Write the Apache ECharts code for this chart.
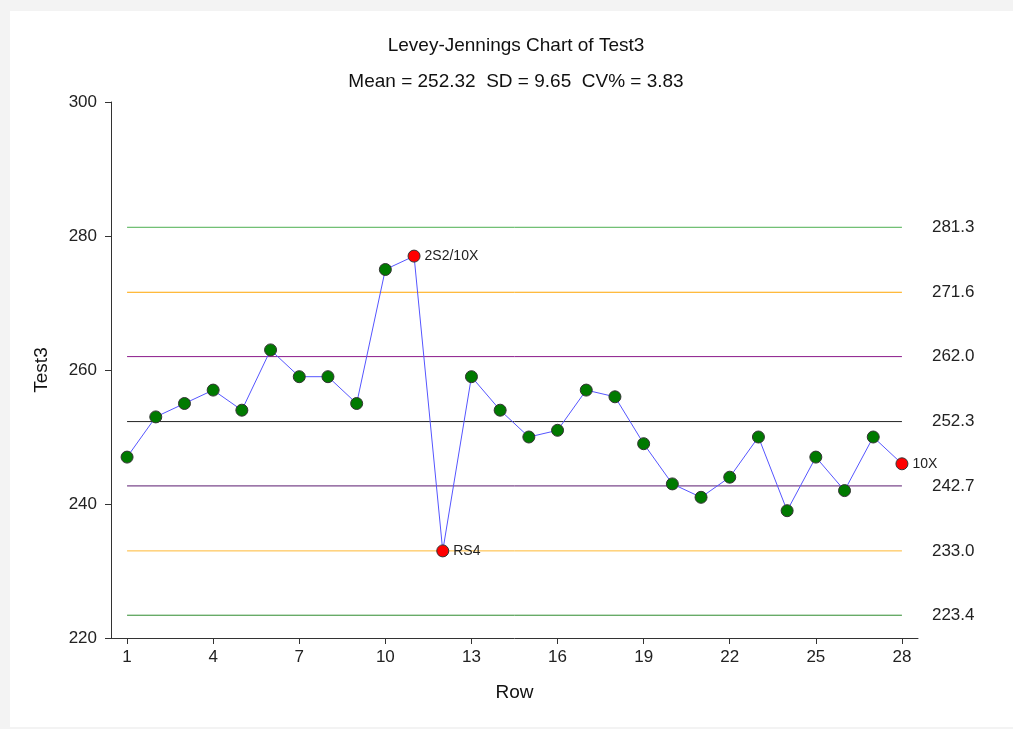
<!DOCTYPE html>
<html>
<head>
<meta charset="utf-8">
<script src="https://cdn.jsdelivr.net/npm/echarts@6/dist/echarts.min.js"></script>
<style>
html,body{margin:0;padding:0;background:#f3f3f3;width:1013px;height:729px;overflow:hidden;}
#panel{position:absolute;left:10px;top:11px;width:1003px;height:716px;background:#fff;}
#chart{position:absolute;left:0;top:0;width:1013px;height:729px;}
</style>
</head>
<body>
<div id="panel"></div>
<div id="chart"></div>
<script>
const rows = [1,2,3,4,5,6,7,8,9,10,11,12,13,14,15,16,17,18,19,20,21,22,23,24,25,26,27,28];
const test3 = [247,253,255,257,254,263,259,259,255,275,277,233,259,254,250,251,257,256,249,243,241,244,250,239,247,242,250,246];
const flags = {11:'2S2/10X', 12:'RS4', 28:'10X'};
const controlValues = [281.3,271.6,262.0,252.3,242.7,233.0,223.4];
const controlLabels = ['281.3','271.6','262.0','252.3','242.7','233.0','223.4'];
const controlColors = ['#4caf50','#ffa500','#8b1a8b','#222222','#5a1a6e','#ffb833','#2e8b2e'];
const xTicks = [1,4,7,10,13,16,19,22,25,28];
const yTicks = [220,240,260,280,300];

const chart = echarts.init(document.getElementById('chart'), null, {renderer:'canvas'});
const font = 'Liberation Sans, Arial, sans-serif';

const controlSeries = controlValues.map((v,i)=>({
  type:'line',
  data:[[rows[0],v],[rows[rows.length-1],v]],
  symbol:'none',
  silent:true,
  z:1,
  lineStyle:{color:controlColors[i],width:1},
  endLabel:{show:true,formatter:controlLabels[i],distance:30,color:'#222',fontSize:17,fontFamily:font},
  animation:false
}));

const mainData = rows.map((r,i)=>{
  const f = flags[r];
  const item = {value:[r,test3[i]]};
  if(f){
    item.itemStyle = {color:'#ff0000',borderColor:'#333',borderWidth:1};
    item.label = {show:true,position:'right',formatter:f,color:'#222',fontSize:14,fontFamily:font,distance:4};
  }
  return item;
});

chart.setOption({
  animation:false,
  backgroundColor:'transparent',
  title:[
    {text:'Levey-Jennings Chart of Test3',top:31,left:511,textAlign:'center',textStyle:{fontSize:19,fontWeight:'normal',color:'#111',fontFamily:font}},
    {text:'Mean = 252.32  SD = 9.65  CV% = 3.83',top:67,left:511,textAlign:'center',textStyle:{fontSize:19,fontWeight:'normal',color:'#111',fontFamily:font}}
  ],
  grid:{left:111,right:95,top:102,bottom:91,containLabel:false},
  xAxis:{
    type:'value',min:0.44,max:28.56,
    name:'Row',nameLocation:'middle',nameGap:45,
    nameTextStyle:{fontSize:19,color:'#111',fontFamily:font},
    axisLine:{show:true,onZero:false,lineStyle:{color:'#333',width:1}},
    axisTick:{show:true,length:6,lineStyle:{color:'#333'},customValues:xTicks},
    axisLabel:{fontSize:17,color:'#222',fontFamily:font,margin:11,customValues:xTicks},
    splitLine:{show:false}
  },
  yAxis:{
    type:'value',min:220,max:300,interval:20,
    name:'Test3',nameLocation:'middle',nameGap:60,
    nameTextStyle:{fontSize:19,color:'#111',fontFamily:font},
    axisLine:{show:true,lineStyle:{color:'#333',width:1}},
    axisTick:{show:true,length:6,lineStyle:{color:'#333'}},
    axisLabel:{fontSize:17,color:'#222',fontFamily:font,margin:14,formatter:v=>yTicks.includes(v)?String(v):''},
    splitLine:{show:false}
  },
  series:[
    ...controlSeries,
    {
      type:'line',
      data:mainData,
      z:5,
      symbol:'circle',
      symbolSize:12,
      lineStyle:{color:'#5555ff',width:1},
      itemStyle:{color:'#007a00',borderColor:'#333',borderWidth:1},
      animation:false
    }
  ]
});
</script>
</body>
</html>
